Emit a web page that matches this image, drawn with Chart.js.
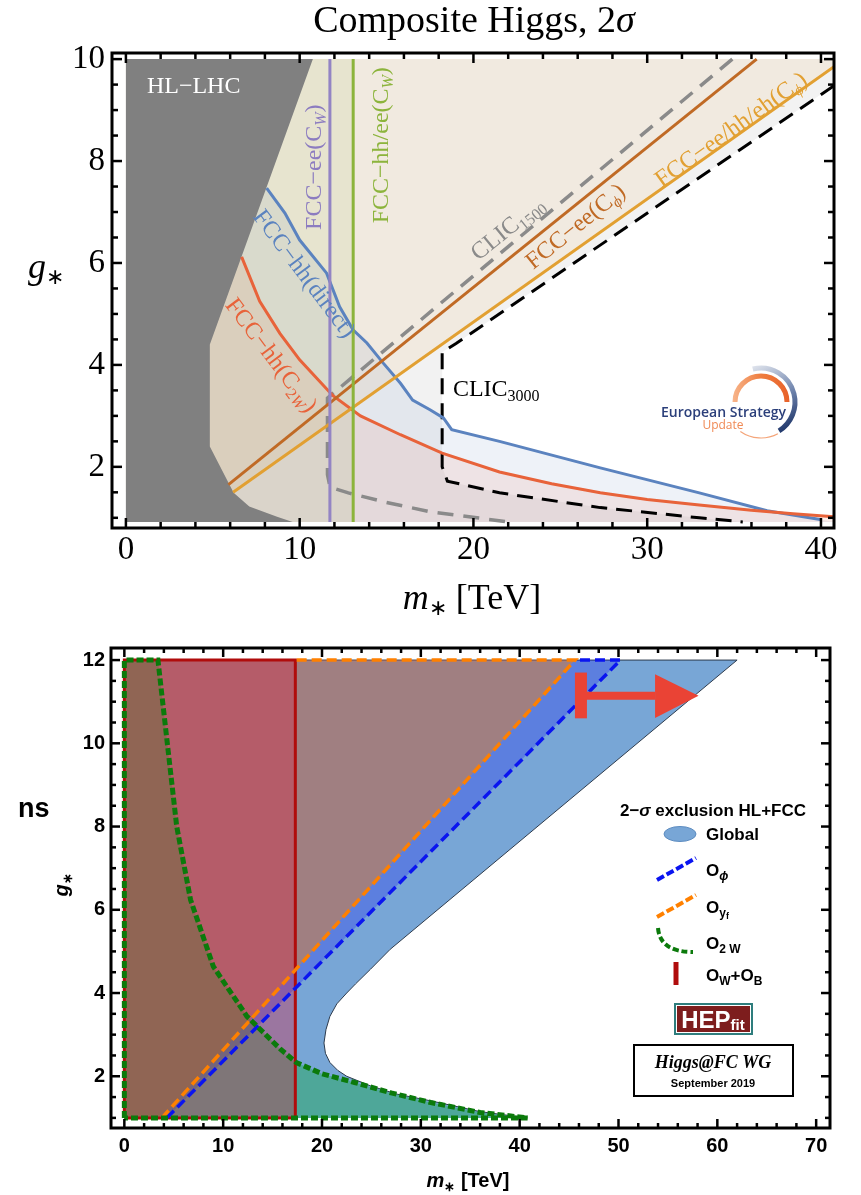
<!DOCTYPE html>
<html><head><meta charset="utf-8">
<script src="https://cdn.jsdelivr.net/npm/chart.js@4.4.0/dist/chart.umd.min.js"></script>
<style>
html,body{margin:0;padding:0;background:#fff;}
#wrap{position:relative;width:861px;height:1195px;overflow:hidden;background:#fff;}
canvas{position:absolute;left:0;}
#c1{top:0;width:861px;height:615px;}
#c2{top:615px;width:861px;height:580px;}
</style></head><body>
<div id="wrap"><canvas id="c1" width="861" height="615"></canvas><canvas id="c2" width="861" height="580"></canvas></div>
<script>
// ================= TOP PANEL: Composite Higgs, 2σ =================
const topXTicks = [0, 10, 20, 30, 40];
const topYTicks = [2, 4, 6, 8, 10];
const topXMinor = [2,4,6,8,12,14,16,18,22,24,26,28,32,34,36,38];
const topYMinor = [1,1.5,2.5,3,3.5,4.5,5,5.5,6.5,7,7.5,8.5,9,9.5];

const hlLhcM = [0, 0, 10.76, 4.83, 4.83, 6.2, 7.1, 8.7, 9.6];
const hlLhcG = [0.92, 10, 10, 4.4, 2.4, 1.49, 1.22, 1.02, 0.92];

const clic3000M = [40.75, 19.0, 18.2, 18.2, 18.5, 21.5, 27.3, 33.0, 35.5];
const clic3000G = [9.48, 4.42, 4.25, 2.0, 1.72, 1.49, 1.2, 1.0, 0.92];

const clic1500M = [34.9, 11.6, 11.6, 11.75, 12.8, 15.0, 17.5, 20.2, 22.0];
const clic1500G = [10, 3.35, 1.85, 1.6, 1.49, 1.3, 1.12, 1.0, 0.92];

const directM = [8.1, 9.15, 10.0, 11.55, 12.3, 13.07, 13.87, 14.8, 15.8, 16.5, 17.5, 18.27, 18.75, 21.5, 27.3, 33.0, 36.9, 40.04];
const directG = [7.47, 6.98, 6.45, 5.8, 5.14, 4.69, 4.43, 4.04, 3.64, 3.31, 3.12, 2.96, 2.73, 2.5, 1.98, 1.49, 1.14, 0.96];

const c2wM = [6.66, 7.7, 8.86, 10.0, 11.9, 13.5, 15.8, 18.2, 21.5, 24.5, 27.3, 30.0, 33.0, 36.0, 38.4, 40.75];
const c2wG = [6.12, 5.25, 4.62, 4.1, 3.4, 3.0, 2.63, 2.27, 1.9, 1.67, 1.49, 1.36, 1.25, 1.15, 1.08, 1.02];

const eeCphiM = [5.9, 36.3];
const eeCphiG = [1.65, 10];
const allCphiM = [6.17, 40.75];
const allCphiG = [1.5, 9.85];
const eeCwM = 11.74;
const hhCwM = 13.08;
const gBottom = 0.92, gTop = 10, mLeft = 0, mRight = 40.75;

// ================= BOTTOM PANEL: HL+FCC =================
const botXTicks = [0, 10, 20, 30, 40, 50, 60, 70];
const botYTicks = [2, 4, 6, 8, 10, 12];
const botXMinor = [2,4,6,8,12,14,16,18,22,24,26,28,32,34,36,38,42,44,46,48,52,54,56,58,62,64,66,68];
const botYMinor = [1,1.5,2.5,3,3.5,4.5,5,5.5,6.5,7,7.5,8.5,9,9.5,10.5,11,11.5];

const globalM = [0, 0, 62.0, 26.9, 24.9, 23.4, 22.5, 21.5, 20.8, 20.4, 20.2, 20.35, 20.8, 21.6, 22.5, 24.9, 27.6, 31.0, 36.0, 40.8];
const globalG = [1, 12, 12, 5.05, 4.57, 4.22, 4.0, 3.74, 3.44, 3.12, 2.8, 2.55, 2.33, 2.14, 2.0, 1.77, 1.57, 1.41, 1.15, 1.0];
const ophiM = [4.3, 50.2];
const ophiG = [1, 12];
const oyfM = [3.8, 45.6];
const oyfG = [1, 12];
const o2wM = [3.4, 4.3, 5.3, 6.7, 9.0, 12.4, 15.8, 17.4, 20.0, 23.3, 27.0, 31.0, 36.0, 40.8];
const o2wG = [12, 10.1, 8.0, 6.24, 4.64, 3.44, 2.65, 2.33, 2.06, 1.85, 1.6, 1.37, 1.13, 1.0];
const owobM = 17.3;
const arrowBarM = [46.2, 46.2], arrowBarG = [10.6, 11.7];
const arrowShaftM = [46.2, 53.7], arrowShaftG = [11.14, 11.14];
const arrowHeadM = [53.7, 58.1, 53.7], arrowHeadG = [11.66, 11.14, 10.61];

// ================= helpers =================
const SERIF = "'Liberation Serif', 'Times New Roman', serif";
const SANS = "'Liberation Sans', Arial, sans-serif";
const F = (s, st) => (st || '') + ' ' + s + 'px ' + SERIF;
const FS = (s, st) => (st || '') + ' ' + s + 'px ' + SANS;
const pts = (ms, gs) => ms.map((m, i) => ({x: m, y: gs[i]}));
const TR = 'rgba(0,0,0,0)';
function poly(data, color, border, bw, dash) {
  return {data, showLine: true, fill: 'shape', backgroundColor: color,
    borderColor: border || TR, borderWidth: bw || 0.01, borderDash: dash || [],
    pointRadius: 0, pointHoverRadius: 0, tension: 0};
}
function line(data, color, w, dash) {
  return {data, showLine: true, fill: false, borderColor: color, borderWidth: w,
    borderDash: dash || [], pointRadius: 0, pointHoverRadius: 0, tension: 0, borderCapStyle: 'butt'};
}
function ordered(list) { list.forEach((d, i) => d.order = 1000 - i); return list; }
function rich(ctx, parts, x, y, angle, align, color, vshift) {
  ctx.save();
  ctx.translate(x, y);
  if (angle) ctx.rotate(angle * Math.PI / 180);
  ctx.fillStyle = color; ctx.textBaseline = 'alphabetic'; ctx.textAlign = 'left';
  let w = 0;
  for (const p of parts) { ctx.font = p.f; w += ctx.measureText(p.t).width; }
  let cx = align === 'center' ? -w / 2 : align === 'right' ? -w : 0;
  for (const p of parts) { ctx.font = p.f; ctx.fillText(p.t, cx, (vshift || 0) + (p.dy || 0)); cx += ctx.measureText(p.t).width; }
  ctx.restore();
}
function drawFrame(chart, c) {
  const {ctx, chartArea: a, scales: {x, y}} = chart;
  ctx.save();
  ctx.strokeStyle = '#000'; ctx.lineWidth = c.tw; ctx.lineCap = 'butt';
  const seg = (x1, y1, x2, y2) => { ctx.beginPath(); ctx.moveTo(x1, y1); ctx.lineTo(x2, y2); ctx.stroke(); };
  const doX = (vals, L) => vals.forEach(v => { const p = x.getPixelForValue(v); seg(p, a.bottom, p, a.bottom - L); seg(p, a.top, p, a.top + L); });
  const doY = (vals, L) => vals.forEach(v => { const p = y.getPixelForValue(v); seg(a.left, p, a.left + L, p); seg(a.right, p, a.right - L, p); });
  doX(c.xMinor, c.minL); doX(c.xMajor, c.majL); doY(c.yMinor, c.minL); doY(c.yMajor, c.majL);
  ctx.lineWidth = c.fw;
  ctx.strokeRect(a.left, a.top, a.right - a.left, a.bottom - a.top);
  ctx.restore();
}

// ================= TOP CHART =================
const topDatasets = ordered([
  poly([{x: 0, y: gBottom}, {x: 0, y: gTop}, {x: mRight, y: gTop}].concat(pts(clic3000M, clic3000G)), 'rgba(0,0,0,0.05)'),
  poly(pts(allCphiM, allCphiG).concat([{x: mRight, y: gTop}, {x: 0, y: gTop}, {x: 0, y: allCphiG[0]}]), 'rgba(230,190,130,0.17)'),
  poly([{x: 0, y: directG[0]}].concat(pts(directM, directG), [{x: mRight, y: gBottom}, {x: 0, y: gBottom}]), 'rgba(91,131,191,0.10)'),
  poly([{x: 0, y: c2wG[0]}].concat(pts(c2wM, c2wG), [{x: mRight, y: gBottom}, {x: 0, y: gBottom}]), 'rgba(232,99,58,0.10)'),
  poly([{x: 0, y: gBottom}, {x: hhCwM, y: gBottom}, {x: hhCwM, y: gTop}, {x: 0, y: gTop}], 'rgba(141,179,58,0.10)'),
  poly(pts(hlLhcM, hlLhcG), '#808080'),
  line(pts(clic1500M, clic1500G), '#8a8a8a', 3.5, [16, 10]),
  line(pts(clic3000M, clic3000G), '#000000', 3, [16, 9]),
  line(pts(directM, directG), '#5b83bf', 3),
  line(pts(c2wM, c2wG), '#e8633a', 3),
  line(pts(eeCphiM, eeCphiG), '#c06a25', 3),
  line(pts(allCphiM, allCphiG), '#e2a032', 3),
  line([{x: eeCwM, y: gBottom}, {x: eeCwM, y: gTop}], '#9384c4', 3),
  line([{x: hhCwM, y: gBottom}, {x: hhCwM, y: gTop}], '#8cb43c', 3)
]);

const topDeco = {
  id: 'topDeco',
  afterDatasetsDraw(chart) {
    const ctx = chart.ctx, xs = chart.scales.x, ys = chart.scales.y;
    const X = v => xs.getPixelForValue(v), Y = v => ys.getPixelForValue(v);
    rich(ctx, [{t: 'HL−LHC', f: F(24)}], X(1.21), Y(9.49), 0, 'left', '#ffffff', 8);
    rich(ctx, [{t: 'FCC−ee(C', f: F(24)}, {t: 'W', f: F(16, 'italic'), dy: 5}, {t: ')', f: F(24)}], X(10.76), Y(7.88), -90, 'center', '#8c7cc0', 8);
    rich(ctx, [{t: 'FCC−hh/ee(C', f: F(24)}, {t: 'W', f: F(16, 'italic'), dy: 5}, {t: ')', f: F(24)}], X(14.62), Y(8.31), -90, 'center', '#8cb43c', 8);
    rich(ctx, [{t: 'FCC−hh(direct)', f: F(24)}], X(10.3), Y(5.8), 53, 'center', '#5b83bf', 8);
    rich(ctx, [{t: 'FCC−hh(C', f: F(24)}, {t: '2', f: F(16), dy: 5}, {t: 'W', f: F(16, 'italic'), dy: 5}, {t: ')', f: F(24)}], X(8.4), Y(4.2), 53, 'center', '#e8633a', 8);
    rich(ctx, [{t: 'CLIC', f: F(24)}, {t: '1500', f: F(16), dy: 5}], X(21.93), Y(6.69), -39, 'center', '#8a8a8a', 8);
    rich(ctx, [{t: 'FCC−ee(C', f: F(24)}, {t: 'ϕ', f: F(16, 'italic'), dy: 5}, {t: ')', f: F(24)}], X(25.84), Y(6.73), -39, 'center', '#c06a25', 8);
    rich(ctx, [{t: 'FCC−ee/hh/eh(C', f: F(24)}, {t: 'ϕ', f: F(16, 'italic'), dy: 5}, {t: ')', f: F(24)}], X(34.8), Y(8.63), -35.5, 'center', '#e2a032', 8);
    rich(ctx, [{t: 'CLIC', f: F(24)}, {t: '3000', f: F(16), dy: 5}], X(18.82), Y(3.55), 0, 'left', '#000000', 8);
  },
  afterDraw(chart) {
    const ctx = chart.ctx;
    drawFrame(chart, {xMajor: topXTicks, xMinor: topXMinor, yMajor: topYTicks, yMinor: topYMinor, majL: 10, minL: 6, tw: 2.5, fw: 3});
    // title and axis titles
    rich(ctx, [{t: 'Composite Higgs, 2', f: F(38)}, {t: 'σ', f: F(38, 'italic')}], 474, 32, 0, 'center', '#000');
    rich(ctx, [{t: 'm', f: F(36, 'italic')}, {t: '∗', f: F(22), dy: 6}, {t: ' [TeV]', f: F(36)}], 472, 609, 0, 'center', '#000');
    rich(ctx, [{t: 'g', f: F(36, 'italic')}, {t: '∗', f: F(22), dy: 6}], 28, 278, 0, 'left', '#000');
    // European Strategy Update logo
    const d = Math.PI / 180, cx = 761, cy = 402;
    ctx.save();
    const gn = ctx.createLinearGradient(cx - 10, cy - 36, cx + 25, cy + 30);
    gn.addColorStop(0, '#e2e6ee'); gn.addColorStop(0.55, '#6f84ad'); gn.addColorStop(1, '#1d3468');
    ctx.strokeStyle = gn; ctx.lineWidth = 5; ctx.lineCap = 'butt';
    ctx.beginPath(); ctx.arc(cx, cy, 34, -104 * d, 58 * d); ctx.stroke();
    const go = ctx.createLinearGradient(cx - 28, cy, cx + 28, cy);
    go.addColorStop(0, '#f7b48a'); go.addColorStop(0.5, '#ef7d3f'); go.addColorStop(1, '#e8622a');
    ctx.strokeStyle = go; ctx.lineWidth = 5;
    ctx.beginPath(); ctx.arc(cx, cy, 26, 180 * d, 360 * d); ctx.stroke();
    ctx.strokeStyle = '#f4a57a'; ctx.lineWidth = 1.2;
    ctx.beginPath(); ctx.arc(cx, cy, 36, 62 * d, 125 * d); ctx.stroke();
    ctx.restore();
    rich(ctx, [{t: 'European Strategy', f: "600 14px 'Open Sans', 'Liberation Sans', sans-serif"}], 661, 417, 0, 'left', '#2b3f7a');
    rich(ctx, [{t: 'Update', f: "12px 'Open Sans', 'Liberation Sans', sans-serif"}], 723, 429, 0, 'center', '#f08a55');
  }
};

new Chart(document.getElementById('c1'), {
  type: 'scatter',
  data: {datasets: topDatasets},
  options: {
    responsive: false, animation: false, devicePixelRatio: 1,
    layout: {padding: {top: 53, right: 27, left: 0, bottom: 0}},
    plugins: {legend: {display: false}, tooltip: {enabled: false}, title: {display: false}},
    scales: {
      x: {type: 'linear', min: -0.8, max: 40.75,
        grid: {display: false, drawTicks: false}, border: {display: false},
        afterBuildTicks: s => { s.ticks = topXTicks.map(v => ({value: v})); },
        afterFit: s => { s.height = 87; },
        ticks: {font: {family: SERIF, size: 33}, color: '#000', padding: 3, maxRotation: 0, autoSkip: false}},
      y: {type: 'linear', min: 0.8, max: 10.12,
        grid: {display: false, drawTicks: false}, border: {display: false},
        afterBuildTicks: s => { s.ticks = topYTicks.map(v => ({value: v})); },
        afterFit: s => { s.width = 112; },
        ticks: {font: {family: SERIF, size: 33}, color: '#000', padding: 7, autoSkip: false}}
    }
  },
  plugins: [topDeco]
});

// ================= BOTTOM CHART =================
const o2wPoly = [{x: 0, y: 1}, {x: 0, y: 12}].concat(pts(o2wM, o2wG), [{x: 0, y: 1}]);
const botDatasets = ordered([
  poly(pts(globalM, globalG), '#78a6d6', '#2d3b4d', 1),
  poly(pts(ophiM, ophiG).concat([{x: 0, y: 12}, {x: 0, y: 1}]), 'rgba(0,0,255,0.23)'),
  poly(pts(oyfM, oyfG).concat([{x: 0, y: 12}, {x: 0, y: 1}]), 'rgba(255,128,0,0.42)'),
  poly(o2wPoly, 'rgba(0,170,40,0.35)'),
  poly([{x: 0, y: 1}, {x: owobM, y: 1}, {x: owobM, y: 12}, {x: 0, y: 12}, {x: 0, y: 1}], 'rgba(220,30,60,0.35)', '#b00c0c', 3),
  line(pts(ophiM, ophiG).concat([{x: oyfM[1], y: 12}]), '#0a14f0', 3.5, [10, 5]),
  line(pts(oyfM, oyfG).concat([{x: owobM, y: 12}]), '#ff8000', 3.5, [10, 5]),
  line(o2wPoly, '#0b7a0b', 5, [7, 3]),
  line(pts(arrowBarM, arrowBarG), '#ea4335', 12),
  line(pts(arrowShaftM, arrowShaftG), '#ea4335', 8),
  poly(pts(arrowHeadM, arrowHeadG), '#ea4335')
]);

const botDeco = {
  id: 'botDeco',
  afterDraw(chart) {
    const ctx = chart.ctx;
    drawFrame(chart, {xMajor: botXTicks, xMinor: botXMinor, yMajor: botYTicks, yMinor: botYMinor, majL: 9, minL: 5, tw: 2.5, fw: 3});
    const o = -615;
    // axis titles
    rich(ctx, [{t: 'm', f: FS(20, 'italic bold')}, {t: '∗', f: FS(13, 'bold'), dy: 4}, {t: ' [TeV]', f: FS(20, 'bold')}], 468, 1187 + o, 0, 'center', '#000');
    rich(ctx, [{t: 'g', f: FS(20, 'italic bold')}, {t: '∗', f: FS(13, 'bold'), dy: 4}], 62, 885 + o, -90, 'center', '#000', 6);
    // stray text
    rich(ctx, [{t: 'ns', f: FS(27, 'bold')}], 18, 817 + o, 0, 'left', '#000');
    // legend
    rich(ctx, [{t: '2−', f: FS(17, 'bold')}, {t: 'σ', f: FS(17, 'italic bold')}, {t: ' exclusion HL+FCC', f: FS(17, 'bold')}], 713, 816 + o, 0, 'center', '#000');
    ctx.save();
    ctx.fillStyle = '#78a6d6'; ctx.strokeStyle = '#5d8cc0'; ctx.lineWidth = 1;
    ctx.beginPath(); ctx.ellipse(680, 834 + o, 16, 7.5, 0, 0, 2 * Math.PI); ctx.fill(); ctx.stroke();
    ctx.lineCap = 'butt';
    ctx.setLineDash([8, 3]); ctx.lineWidth = 4;
    ctx.strokeStyle = '#0a14f0'; ctx.beginPath(); ctx.moveTo(657, 880 + o); ctx.lineTo(696, 858 + o); ctx.stroke();
    ctx.strokeStyle = '#ff8000'; ctx.beginPath(); ctx.moveTo(657, 917 + o); ctx.lineTo(696, 895 + o); ctx.stroke();
    ctx.setLineDash([6, 3]);
    ctx.strokeStyle = '#0b7a0b'; ctx.beginPath(); ctx.moveTo(658, 928 + o); ctx.quadraticCurveTo(660, 952 + o, 693, 952 + o); ctx.stroke();
    ctx.setLineDash([]);
    ctx.strokeStyle = '#b00c0c'; ctx.lineWidth = 5; ctx.beginPath(); ctx.moveTo(676, 962 + o); ctx.lineTo(676, 985 + o); ctx.stroke();
    ctx.restore();
    const B = FS(17, 'bold'), b = FS(12, 'bold');
    rich(ctx, [{t: 'Global', f: B}], 706, 840 + o, 0, 'left', '#000');
    rich(ctx, [{t: 'O', f: B}, {t: 'ϕ', f: FS(12, 'italic bold'), dy: 4}], 706, 876 + o, 0, 'left', '#000');
    rich(ctx, [{t: 'O', f: B}, {t: 'y', f: b, dy: 4}, {t: 'f', f: FS(9, 'bold'), dy: 6}], 706, 913 + o, 0, 'left', '#000');
    rich(ctx, [{t: 'O', f: B}, {t: '2 W', f: b, dy: 4}], 706, 949 + o, 0, 'left', '#000');
    rich(ctx, [{t: 'O', f: B}, {t: 'W', f: b, dy: 4}, {t: '+O', f: B}, {t: 'B', f: b, dy: 4}], 706, 981 + o, 0, 'left', '#000');
    // HEPfit logo
    ctx.save();
    ctx.fillStyle = '#2e7d7d'; ctx.fillRect(674, 1003 + o, 79, 32);
    ctx.fillStyle = '#ffffff'; ctx.fillRect(676, 1005 + o, 75, 28);
    ctx.fillStyle = '#7d1d1d'; ctx.fillRect(677, 1006 + o, 73, 26);
    ctx.restore();
    rich(ctx, [{t: 'HEP', f: FS(24, 'bold')}, {t: 'fit', f: FS(15, 'bold'), dy: 2}], 713, 1028 + o, 0, 'center', '#ffffff');
    // Higgs@FC WG box
    ctx.save();
    ctx.strokeStyle = '#000'; ctx.lineWidth = 2;
    ctx.strokeRect(634, 1045 + o, 159, 51);
    ctx.restore();
    rich(ctx, [{t: 'Higgs@FC WG', f: F(18, 'italic bold')}], 713, 1068 + o, 0, 'center', '#000');
    rich(ctx, [{t: 'September 2019', f: FS(11, 'bold')}], 713, 1087 + o, 0, 'center', '#000');
  }
};

new Chart(document.getElementById('c2'), {
  type: 'scatter',
  data: {datasets: botDatasets},
  options: {
    responsive: false, animation: false, devicePixelRatio: 1,
    layout: {padding: {top: 33, right: 31, left: 0, bottom: 0}},
    plugins: {legend: {display: false}, tooltip: {enabled: false}, title: {display: false}},
    scales: {
      x: {type: 'linear', min: -1.35, max: 71.4,
        grid: {display: false, drawTicks: false}, border: {display: false},
        afterBuildTicks: s => { s.ticks = botXTicks.map(v => ({value: v})); },
        afterFit: s => { s.height = 67; },
        ticks: {font: {family: SANS, size: 20, weight: 'bold'}, color: '#000', padding: 6, maxRotation: 0, autoSkip: false}},
      y: {type: 'linear', min: 0.757, max: 12.29,
        grid: {display: false, drawTicks: false}, border: {display: false},
        afterBuildTicks: s => { s.ticks = botYTicks.map(v => ({value: v})); },
        afterFit: s => { s.width = 111; },
        ticks: {font: {family: SANS, size: 20, weight: 'bold'}, color: '#000', padding: 6, autoSkip: false}}
    }
  },
  plugins: [botDeco]
});
</script>
</body></html>
